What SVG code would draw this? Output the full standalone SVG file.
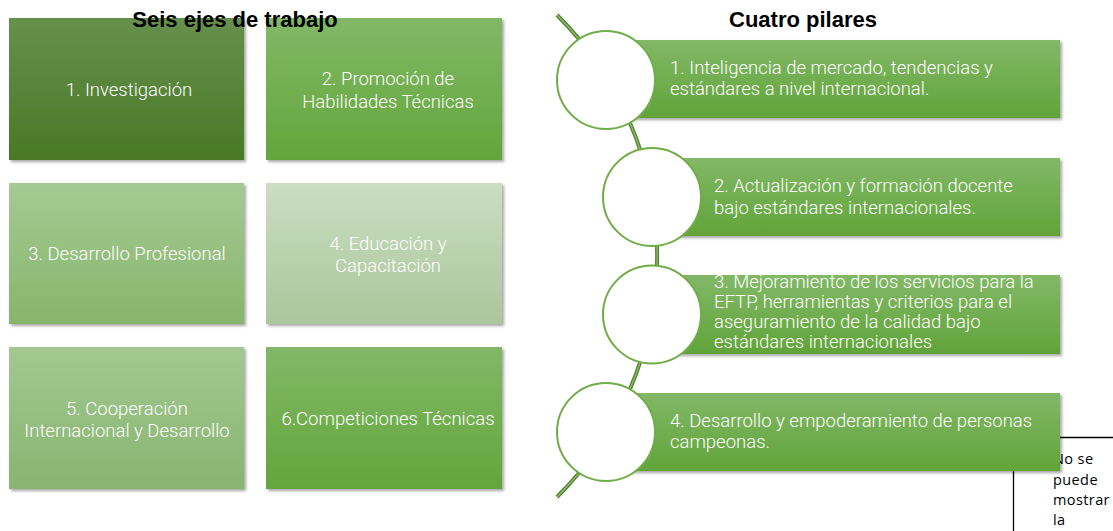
<svg xmlns="http://www.w3.org/2000/svg" width="1113" height="531" viewBox="0 0 1113 531">
<style>
.title{font-family:"Liberation Sans",Arial,sans-serif;font-weight:bold;font-size:22px;fill:#000}
.bt{font-family:Roboto,"Liberation Sans",sans-serif;font-weight:300;font-size:18.5px;fill:#fff}
.c{text-anchor:middle}
.note{font-family:"Open Sans","Liberation Sans",sans-serif;font-size:14.5px;letter-spacing:0.4px;fill:#000}
.circ{fill:#fff;stroke:#70ad47;stroke-width:2}
</style>
<defs>
<filter id="sh" x="-5%" y="-5%" width="112%" height="115%">
<feDropShadow dx="2" dy="2" stdDeviation="1.5" flood-color="#000" flood-opacity="0.35"/>
</filter>
<linearGradient id="g1" x1="0" y1="0" x2="0" y2="1"><stop offset="0" stop-color="#67904d"/><stop offset="1" stop-color="#487925"/></linearGradient>
<linearGradient id="g2" x1="0" y1="0" x2="0" y2="1"><stop offset="0" stop-color="#82b867"/><stop offset="1" stop-color="#63a63b"/></linearGradient>
<linearGradient id="g3" x1="0" y1="0" x2="0" y2="1"><stop offset="0" stop-color="#a6ca94"/><stop offset="1" stop-color="#86b56b"/></linearGradient>
<linearGradient id="g4" x1="0" y1="0" x2="0" y2="1"><stop offset="0" stop-color="#cadec1"/><stop offset="1" stop-color="#abc69c"/></linearGradient>
<linearGradient id="g5" x1="0" y1="0" x2="0" y2="1"><stop offset="0" stop-color="#a3c891"/><stop offset="1" stop-color="#87b570"/></linearGradient>
<linearGradient id="gp" x1="0" y1="0" x2="0" y2="1"><stop offset="0" stop-color="#82b867"/><stop offset="1" stop-color="#61a439"/></linearGradient>
</defs>

<!-- broken image placeholder -->
<g id="placeholder">
<path d="M1013.5,531 V437.5 H1113" fill="none" stroke="#000" stroke-width="1.3"/>
<line x1="1022" y1="470" x2="1043" y2="470" stroke="#4a4a4a" stroke-width="1.5"/>
<text class="note" x="1053" y="464">No se</text>
<text class="note" x="1053" y="485">puede</text>
<text class="note" x="1053" y="505">mostrar</text>
<text class="note" x="1053" y="525">la</text>
</g>

<g id="eje1"><rect x="9" y="18" width="235" height="142" fill="url(#g1)" filter="url(#sh)"/>
<text class="bt c" x="129" y="95.5">1. Investigación</text></g>
<g id="eje2"><rect x="266" y="18" width="236" height="142" fill="url(#g2)" filter="url(#sh)"/>
<text class="bt c" x="388" y="84.5">2. Promoción de</text><text class="bt c" x="388" y="107.5">Habilidades Técnicas</text></g>
<g id="eje3"><rect x="9" y="183" width="235" height="141" fill="url(#g3)" filter="url(#sh)"/>
<text class="bt c" x="127" y="259.5">3. Desarrollo Profesional</text></g>
<g id="eje4"><rect x="266" y="183" width="236" height="141" fill="url(#g4)" filter="url(#sh)"/>
<text class="bt c" x="388" y="249.5">4. Educación y</text><text class="bt c" x="388" y="271.5">Capacitación</text></g>
<g id="eje5"><rect x="9" y="347" width="235" height="142" fill="url(#g5)" filter="url(#sh)"/>
<text class="bt c" x="127" y="414.5">5. Cooperación</text><text class="bt c" x="127" y="436.5">Internacional y Desarrollo</text></g>
<g id="eje6"><rect x="266" y="347" width="236" height="142" fill="url(#g2)" filter="url(#sh)"/>
<text class="bt c" x="388" y="424.5">6.Competiciones Técnicas</text></g>

<text class="title c" x="235" y="27">Seis ejes de trabajo</text>
<text class="title c" x="803" y="27">Cuatro pilares</text>

<g id="connectors">
<path d="M557,15 A340,340 0 0 1 557,497" fill="none" stroke="#548235" stroke-width="4"/>
<path d="M557,15 A340,340 0 0 1 557,497" fill="none" stroke="#8fbf6c" stroke-width="1.3"/>
</g>

<g id="pilar1"><rect x="606" y="40" width="454" height="78" fill="url(#gp)" filter="url(#sh)"/>
<circle class="circ" cx="606" cy="80" r="49"/>
<text class="bt" x="670" y="74">1. Inteligencia de mercado, tendencias y</text>
<text class="bt" x="670" y="95">estándares a nivel internacional.</text></g>
<g id="pilar2"><rect x="652" y="158" width="408" height="78" fill="url(#gp)" filter="url(#sh)"/>
<circle class="circ" cx="652" cy="197" r="49"/>
<text class="bt" x="714" y="192">2. Actualización y formación docente</text>
<text class="bt" x="714" y="214">bajo estándares internacionales.</text></g>
<g id="pilar3"><rect x="652" y="275" width="408" height="79" fill="url(#gp)" filter="url(#sh)"/>
<circle class="circ" cx="652" cy="314.5" r="49"/>
<text class="bt" x="714" y="288">3. Mejoramiento de los servicios para la</text>
<text class="bt" x="714" y="308">EFTP, herramientas y criterios para el</text>
<text class="bt" x="714" y="328">aseguramiento de la calidad bajo</text>
<text class="bt" x="714" y="348">estándares internacionales</text></g>
<g id="pilar4"><rect x="606" y="393" width="454" height="78" fill="url(#gp)" filter="url(#sh)"/>
<circle class="circ" cx="606" cy="432" r="49"/>
<text class="bt" x="670" y="427">4. Desarrollo y empoderamiento de personas</text>
<text class="bt" x="670" y="448">campeonas.</text></g>
</svg>
